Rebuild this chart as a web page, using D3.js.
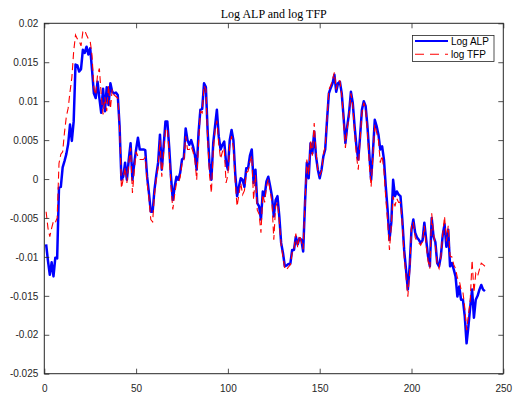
<!DOCTYPE html>
<html><head><meta charset="utf-8">
<script src="https://cdn.jsdelivr.net/npm/d3@7"></script>
<style>body{margin:0;background:#fff} svg{display:block}</style>
</head><body>
<svg id="c" width="513" height="394"></svg>
<script>
const title = "Log ALP and log TFP";
const seriesNames = ["Log ALP", "log TFP"];
const seriesColors = ["#0000ff", "#ff0000"];
const xTicks = [0, 50, 100, 150, 200, 250];
const xTickLabels = ["0", "50", "100", "150", "200", "250"];
const yTicks = [0.02, 0.015, 0.01, 0.005, 0, -0.005, -0.01, -0.015, -0.02, -0.025];
const yTickLabels = ["0.02", "0.015", "0.01", "0.005", "0", "-0.005", "-0.01", "-0.015", "-0.02", "-0.025"];

const periods = d3.range(1, 241);
const logALP = [
-0.0084,-0.0105,-0.0123,-0.0107,-0.0125,-0.0101,-0.0102,-0.0011,-0.0010,0.0015,
0.0023,0.0032,0.0045,0.0070,0.0049,0.0074,0.0147,0.0146,0.0138,0.0141,
0.0166,0.0162,0.0170,0.0160,0.0168,0.0140,0.0110,0.0104,0.0125,0.0104,
0.0085,0.0116,0.0087,0.0118,0.0095,0.0123,0.0112,0.0110,0.0111,0.0108,
0.0068,-0.0001,0.0003,0.0021,-0.0001,0.0025,0.0046,-0.0001,0.0020,0.0038,
0.0053,0.0038,0.0038,0.0038,0.0037,0.0003,-0.0018,-0.0042,-0.0042,-0.0014,
0.0005,0.0021,0.0057,0.0012,0.0042,0.0074,0.0074,0.0042,0.0003,-0.0027,
-0.0010,0.0003,-0.0001,0.0008,0.0025,0.0027,0.0065,0.0050,0.0044,0.0050,
0.0042,0.0031,0.0012,0.0059,0.0089,0.0090,0.0123,0.0118,0.0060,0.0018,
-0.0001,0.0046,0.0068,0.0089,0.0055,0.0038,0.0044,0.0048,0.0021,0.0012,
0.0050,0.0063,0.0050,0.0007,-0.0022,-0.0010,0.0001,-0.0001,-0.0010,0.0014,
0.0014,0.0030,0.0038,-0.0005,0.0012,-0.0031,-0.0035,-0.0052,-0.0016,-0.0022,
-0.0003,0.0003,-0.0009,-0.0022,-0.0048,-0.0027,-0.0022,-0.0048,-0.0082,-0.0095,
-0.0112,-0.0111,-0.0109,-0.0109,-0.0091,-0.0091,-0.0074,-0.0084,-0.0076,-0.0078,
-0.0093,-0.0031,0.0021,0.0001,0.0046,0.0033,0.0061,0.0029,0.0012,0.0001,
0.0012,0.0029,0.0038,0.0076,0.0110,0.0117,0.0123,0.0134,0.0112,0.0123,
0.0125,0.0110,0.0080,0.0046,0.0068,0.0085,0.0112,0.0098,0.0068,0.0042,
0.0025,0.0055,0.0089,0.0100,0.0094,0.0068,0.0033,-0.0001,0.0035,0.0076,
0.0068,0.0057,0.0038,0.0042,0.0025,-0.0010,-0.0040,-0.0078,-0.0056,-0.0001,
-0.0022,-0.0016,-0.0020,-0.0022,-0.0052,-0.0091,-0.0116,-0.0142,-0.0112,-0.0065,
-0.0052,-0.0069,-0.0075,-0.0078,-0.0082,-0.0079,-0.0056,-0.0078,-0.0099,-0.0112,
-0.0050,-0.0074,-0.0081,-0.0108,-0.0112,-0.0099,-0.0072,-0.0058,-0.0087,-0.0065,
-0.0112,-0.0108,-0.0116,-0.0125,-0.0151,-0.0138,-0.0155,-0.0155,-0.0176,-0.0211,
-0.0189,-0.0164,-0.0142,-0.0178,-0.0155,-0.0150,-0.0142,-0.0136,-0.0142,-0.0144
];
const logTFP = [
-0.0042,-0.0063,-0.0074,-0.0063,-0.0054,-0.0056,-0.0050,0.0020,0.0032,0.0035,
0.0060,0.0080,0.0091,0.0112,0.0130,0.0164,0.0185,0.0180,0.0177,0.0171,
0.0189,0.0191,0.0185,0.0180,0.0177,0.0159,0.0117,0.0108,0.0134,0.0142,
0.0108,0.0083,0.0105,0.0087,0.0120,0.0090,0.0115,0.0108,0.0106,0.0104,
0.0070,-0.0012,0.0000,0.0015,-0.0005,0.0020,0.0040,-0.0018,0.0010,0.0035,
0.0029,0.0025,0.0025,0.0025,0.0028,-0.0005,-0.0025,-0.0052,-0.0055,-0.0020,
0.0000,0.0015,0.0050,0.0003,0.0035,0.0063,0.0065,0.0035,-0.0010,-0.0039,
-0.0020,-0.0005,-0.0005,0.0002,0.0020,0.0022,0.0055,0.0038,0.0038,0.0042,
0.0035,0.0025,-0.0001,0.0045,0.0087,0.0085,0.0120,0.0115,0.0050,0.0005,
-0.0018,0.0035,0.0063,0.0075,0.0045,0.0026,0.0035,0.0040,-0.0005,0.0005,
0.0045,0.0055,0.0040,-0.0005,-0.0035,-0.0020,-0.0005,-0.0020,-0.0015,0.0008,
0.0010,0.0022,0.0030,-0.0027,0.0005,-0.0040,-0.0045,-0.0069,-0.0020,-0.0030,
-0.0010,0.0000,-0.0015,-0.0030,-0.0078,-0.0035,-0.0030,-0.0055,-0.0085,-0.0100,
-0.0116,-0.0116,-0.0113,-0.0110,-0.0095,-0.0090,-0.0070,-0.0088,-0.0072,-0.0080,
-0.0090,-0.0030,0.0025,0.0005,0.0050,0.0030,0.0072,0.0035,0.0010,0.0005,
0.0010,0.0032,0.0042,0.0078,0.0115,0.0120,0.0128,0.0137,0.0115,0.0126,
0.0126,0.0108,0.0075,0.0040,0.0065,0.0080,0.0110,0.0095,0.0060,0.0030,
0.0012,0.0050,0.0085,0.0098,0.0090,0.0060,0.0020,-0.0010,0.0030,0.0070,
0.0060,0.0050,0.0021,0.0030,0.0010,-0.0025,-0.0055,-0.0091,-0.0060,-0.0022,
-0.0035,-0.0025,-0.0030,-0.0030,-0.0060,-0.0100,-0.0125,-0.0151,-0.0120,-0.0060,
-0.0055,-0.0075,-0.0080,-0.0082,-0.0085,-0.0080,-0.0060,-0.0085,-0.0105,-0.0115,
-0.0044,-0.0070,-0.0085,-0.0110,-0.0115,-0.0100,-0.0070,-0.0048,-0.0080,-0.0060,
-0.0099,-0.0100,-0.0110,-0.0115,-0.0127,-0.0130,-0.0142,-0.0145,-0.0165,-0.0194,
-0.0175,-0.0155,-0.0104,-0.0146,-0.0121,-0.0125,-0.0116,-0.0108,-0.0110,-0.0112
];

const L = 44.3, R = 503.3, T = 23.3, B = 373.7;
const axisColor = "#262626";
const font = "'Liberation Sans', Arial, Helvetica, sans-serif";
const svg = d3.select("#c");

const x = d3.scaleLinear().domain([0, 250]).range([L, R]);
const y = d3.scaleLinear().domain([-0.025, 0.02]).range([B, T]);

// series
const line = d3.line().x((d, i) => x(periods[i])).y(d => y(d));
svg.append("path").datum(logALP)
  .attr("d", line).attr("fill", "none")
  .attr("stroke", seriesColors[0]).attr("stroke-width", 2.5)
  .attr("stroke-linejoin", "round");
svg.append("path").datum(logTFP)
  .attr("d", line).attr("fill", "none")
  .attr("stroke", seriesColors[1]).attr("stroke-width", 1.1)
  .attr("stroke-dasharray", "7,4");

// axes
function styleAxis(g) {
  g.select(".domain").remove();
  g.selectAll(".tick line").attr("stroke", axisColor).attr("stroke-width", 0.8);
  g.selectAll(".tick text").attr("fill", axisColor)
    .style("font-family", font).style("font-size", "10px");
}
svg.append("g").attr("transform", `translate(0,${B})`)
  .call(d3.axisBottom(x).tickValues(xTicks).tickSize(-5).tickPadding(11)
    .tickFormat((d, i) => xTickLabels[i]))
  .call(styleAxis);
svg.append("g").attr("transform", `translate(0,${T})`)
  .call(d3.axisTop(x).tickValues(xTicks).tickSize(-5).tickFormat(""))
  .call(styleAxis);
svg.append("g").attr("transform", `translate(${L},0)`)
  .call(d3.axisLeft(y).tickValues(yTicks).tickSize(-5).tickPadding(6)
    .tickFormat((d, i) => yTickLabels[i]))
  .call(styleAxis);
svg.append("g").attr("transform", `translate(${R},0)`)
  .call(d3.axisRight(y).tickValues(yTicks).tickSize(-5).tickFormat(""))
  .call(styleAxis);

svg.append("rect").attr("x", L).attr("y", T).attr("width", R - L).attr("height", B - T)
  .attr("fill", "none").attr("stroke", axisColor).attr("stroke-width", 1);

// title
svg.append("text").attr("x", (L + R) / 2).attr("y", 17.5)
  .attr("text-anchor", "middle").attr("fill", "#000")
  .style("font-family", "'Liberation Serif', 'Times New Roman', serif")
  .style("font-size", "12px").text(title);

// legend
const lg = svg.append("g");
lg.append("rect").attr("x", 412.5).attr("y", 35.5).attr("width", 81.5).attr("height", 26)
  .attr("fill", "#fff").attr("stroke", axisColor).attr("stroke-width", 0.8);
seriesNames.forEach((name, i) => {
  const yy = 41 + i * 13.3;
  lg.append("line").attr("x1", 415).attr("x2", 448).attr("y1", yy).attr("y2", yy)
    .attr("stroke", seriesColors[i]).attr("stroke-width", i === 0 ? 2.2 : 1.1)
    .attr("stroke-dasharray", i === 0 ? null : "9,6");
  lg.append("text").attr("x", 451).attr("y", yy + 3.6).attr("fill", "#000")
    .style("font-family", font).style("font-size", "10px").text(name);
});
</script>
</body></html>
